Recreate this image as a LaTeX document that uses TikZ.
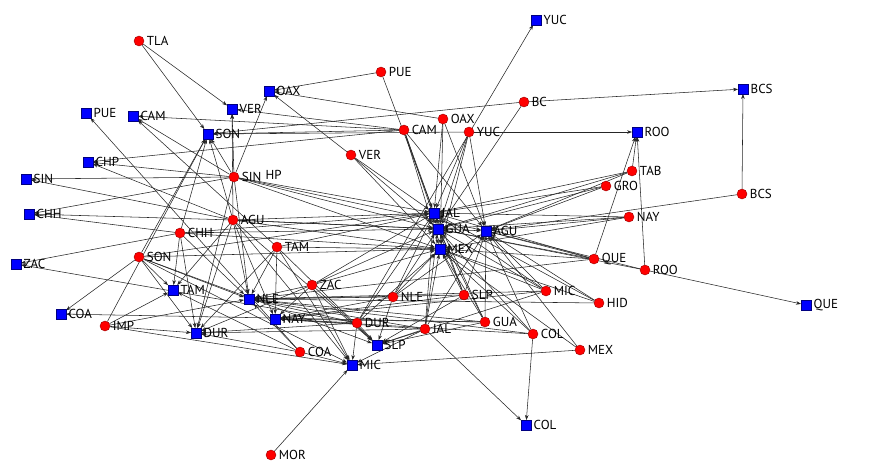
\documentclass[tikz,border=0pt]{standalone}
\usepackage{fontspec}
\setmainfont{PT Sans}
\usetikzlibrary{arrows.meta,backgrounds}
\tikzset{
  rdot/.style={circle,fill=red,draw=red!60!black,line width=0.4pt,minimum size=10pt,inner sep=0pt},
  bsq/.style={rectangle,fill=blue,draw=blue!50!black,line width=0.4pt,minimum size=9.5pt,inner sep=0pt},
  lbl/.style={anchor=west,inner sep=1pt,xshift=1.5pt,font=\fontsize{13}{15}\selectfont},
  edge/.style={draw=black!85,line width=0.55pt,-{Stealth[length=5pt,width=3.6pt]}}
}
\begin{document}
\begin{tikzpicture}[x=1pt,y=-1pt]
\useasboundingbox (0,0) rectangle (878,476);
% red nodes
\foreach \n/\x/\y in {TLA/139/41,PUE/381/72,BC/524/102,OAX/443/119,CAM/404/130,YUC/469/132,VER/351/155,SIN/234/177,AGU/233/220,CHH/180/233,TAM/277/247,SON/139/257,TAB/632/171,GRO/606/186,NAY/629/217,BCS/742/194,QUE/594/259,ROO/645/270,HID/599/303,ZAC/312/285,NLE/393/297,SLP/464/295,MIC/546/291,GUA/485/322,DUR/357/323,JAL/425/329,COL/533/334,MEX/580/350,COA/300/352,IMP/105/326,MOR/271/455}
  {\node[rdot] (r\n) at (\x,\y) {}; \node[lbl] (tr\n) at (r\n.east) {\n};}
% blue nodes
\foreach \n/\x/\y in {YUC/536/20,BCS/743/89,ROO/637/132,OAX/269/91,VER/232/109,PUE/86/113,CAM/133/116,SON/208/134,CHP/88/162,SIN/26/179,CHH/29/214,ZAC/16/264,JAL/434/213,GUA/438/229,AGU/486/231,MEX/440/249,TAM/173/290,NLE/249/299,NAY/275/319,COA/61/314,DUR/196/333,SLP/377/345,MIC/352/365,COL/526/425,QUE/806/305}
  {\node[bsq] (b\n) at (\x,\y) {}; \node[lbl] (tb\n) at (b\n.east) {\n};}
\node[lbl,anchor=west,xshift=0pt] (hp) at (263,175) {HP};
\begin{scope}[on background layer]
\foreach \s/\t in {TLA/SON,TLA/VER,PUE/OAX,PUE/JAL,BC/BCS,BC/SON,BC/GUA,
 OAX/JAL,OAX/AGU,OAX/OAX,OAX/MEX,
 CAM/CAM,CAM/CHP,CAM/SON,CAM/VER,CAM/JAL,CAM/GUA,CAM/MEX,CAM/AGU,
 YUC/ROO,YUC/SON,YUC/JAL,YUC/GUA,YUC/AGU,YUC/MEX,
 VER/OAX,VER/JAL,VER/GUA,VER/MEX,
 SIN/SIN,SIN/CHH,SIN/CHP,SIN/SON,SIN/VER,SIN/OAX,SIN/JAL,SIN/GUA,SIN/AGU,SIN/MEX,SIN/NLE,SIN/DUR,SIN/CAM,
 AGU/SIN,AGU/CHH,AGU/CHP,AGU/SON,AGU/VER,AGU/JAL,AGU/GUA,AGU/AGU,AGU/MEX,AGU/NLE,AGU/TAM,AGU/DUR,AGU/NAY,AGU/SLP,AGU/MIC,
 CHH/CHH,CHH/ZAC,CHH/SON,CHH/JAL,CHH/GUA,CHH/MEX,CHH/NLE,CHH/DUR,CHH/TAM,
 TAM/JAL,TAM/MEX,TAM/NLE,TAM/NAY,TAM/DUR,TAM/MIC,TAM/SLP,TAM/CAM,
 SON/SON,SON/COA,SON/TAM,SON/NLE,SON/DUR,SON/MIC,SON/JAL,SON/MEX,SON/SLP,
 TAB/ROO,TAB/JAL,TAB/GUA,TAB/AGU,
 GRO/JAL,GRO/GUA,GRO/AGU,
 NAY/JAL,NAY/GUA,NAY/AGU,NAY/MEX,
 BCS/BCS,BCS/AGU,
 QUE/ROO,QUE/JAL,QUE/GUA,QUE/AGU,QUE/MEX,QUE/NLE,
 ROO/QUE,ROO/ROO,ROO/GUA,ROO/AGU,
 HID/AGU,HID/MEX,HID/NLE,HID/JAL,
 MIC/JAL,MIC/GUA,MIC/AGU,MIC/MEX,MIC/NLE,MIC/SLP,MIC/NAY,
 ZAC/JAL,ZAC/GUA,ZAC/MEX,ZAC/NLE,ZAC/NAY,ZAC/SLP,ZAC/MIC,ZAC/DUR,
 NLE/JAL,NLE/GUA,NLE/MEX,NLE/NLE,NLE/NAY,NLE/SLP,NLE/AGU,
 SLP/JAL,SLP/GUA,SLP/AGU,SLP/MEX,SLP/NLE,SLP/NAY,SLP/SLP,
 GUA/JAL,GUA/GUA,GUA/AGU,GUA/MEX,GUA/COA,GUA/NAY,GUA/SLP,GUA/NLE,
 DUR/YUC,DUR/ZAC,DUR/JAL,DUR/MEX,DUR/NLE,DUR/NAY,DUR/DUR,DUR/SLP,DUR/MIC,
 JAL/JAL,JAL/GUA,JAL/AGU,JAL/MEX,JAL/NLE,JAL/NAY,JAL/DUR,JAL/SLP,JAL/COL,JAL/MIC,
 COL/COL,COL/AGU,COL/GUA,COL/MEX,COL/NLE,COL/NAY,
 MEX/MIC,MEX/AGU,MEX/MEX,
 COA/PUE,COA/MIC,COA/DUR,COA/NLE,COA/TAM,
 IMP/TAM,IMP/DUR,IMP/SON,IMP/NLE,IMP/MIC,
 MOR/MIC}
  {\draw[edge] (r\s) -- (b\t);}
\end{scope}
\end{tikzpicture}
\end{document}
